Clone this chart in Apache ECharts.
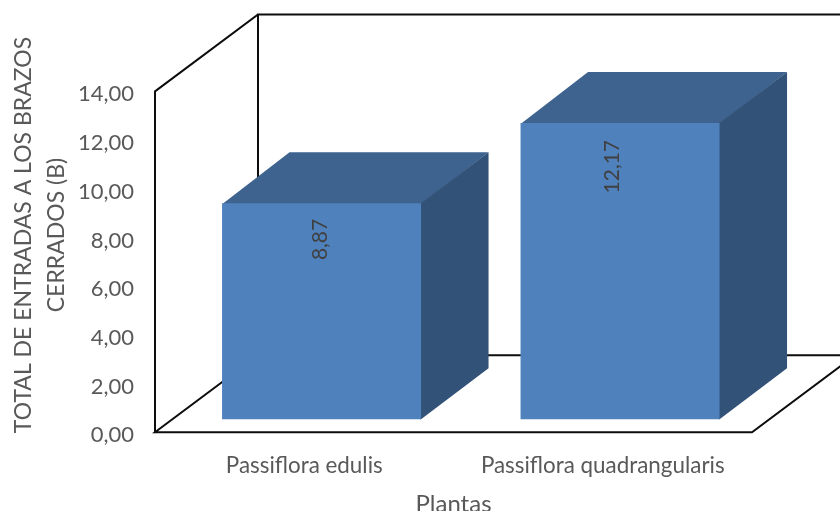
<!DOCTYPE html>
<html>
<head>
<meta charset="utf-8">
<style>html,body{margin:0;padding:0;background:#fff}#chart{width:840px;height:511px}</style>
<script src="https://cdn.jsdelivr.net/npm/echarts@6/dist/echarts.min.js"></script>
</head>
<body>
<div id="chart"></div>
<script>
const categories = ['Passiflora edulis', 'Passiflora quadrangularis'];
const values = [8.87, 12.17];
const yTicks = { min: 0, max: 14, interval: 2 };
const yTitle = ['TOTAL DE ENTRADAS A LOS BRAZOS', 'CERRADOS (B)'];
const xTitle = 'Plantas';

// Oblique projection of the 3D box: depth runs up and to the right.
const wallDepth = { x: 103, y: -77 };
const barInset = { x: 17.3, y: -13 };
const barDepth = { x: 67.5, y: -51 };
const barRatio = 2 / 3;
const labelShift = [-1, -8];
const labelGap = [15.5, 17];
const fontName = 'Lato, "Open Sans", sans-serif';
const comma = (v, digits) => v.toFixed(digits).replace('.', ',');

const wallStyle = { stroke: '#0d0d0d', lineWidth: 2, fill: null };

function renderWalls(params, api) {
  const c = params.coordSys;
  const l = c.x, r = c.x + c.width, t = c.y, b = c.y + c.height;
  const dx = wallDepth.x, dy = wallDepth.y;
  return {
    type: 'polyline',
    shape: {
      points: [
        [l, t], [l + dx, t + dy], [r + dx, t + dy], [l + dx, t + dy],
        [l + dx, b + dy], [r + dx, b + dy], [r, b], [l, b], [l + dx, b + dy]
      ]
    },
    style: wallStyle
  };
}

function renderBar(params, api) {
  const cat = api.value(0), val = api.value(1);
  const top = api.coord([cat, val]);
  const base = api.coord([cat, 0]);
  const w = api.size([1, 0])[0] * barRatio;
  const x0 = top[0] - w / 2 + barInset.x, x1 = x0 + w;
  const y0 = top[1] + barInset.y, y1 = base[1] + barInset.y;
  const dx = barDepth.x, dy = barDepth.y;
  return {
    type: 'group',
    children: [
      // Top and side faces run slightly under the front face so no seam shows.
      {
        type: 'polygon',
        shape: { points: [[x0, y0 + 1], [x0 + dx, y0 + dy], [x1 + dx, y0 + dy], [x1, y0 + 1]] },
        style: { fill: '#3e638f' }
      },
      {
        type: 'polygon',
        shape: { points: [[x1 - 1, y0], [x1, y0], [x1 + dx, y0 + dy], [x1 + dx, y1 + dy], [x1, y1], [x1 - 1, y1]] },
        style: { fill: '#335278' }
      },
      {
        type: 'rect',
        shape: { x: x0, y: y0, width: w, height: y1 - y0 },
        style: { fill: '#4f81bd' }
      },
      {
        type: 'text',
        x: (x0 + x1) / 2 + labelShift[cat],
        y: y0 + labelGap[cat],
        rotation: Math.PI / 2,
        style: {
          text: comma(val, 2),
          fill: '#404040',
          font: '21px ' + fontName,
          align: 'right',
          verticalAlign: 'middle'
        }
      }
    ]
  };
}

const chart = echarts.init(document.getElementById('chart'));
chart.setOption({
  animation: false,
  backgroundColor: '#fff',
  grid: { left: 155, top: 91.4, width: 597, height: 340.9, outerBoundsMode: 'none' },
  xAxis: {
    type: 'category',
    data: categories,
    name: xTitle,
    nameLocation: 'middle',
    nameGap: 60,
    nameTextStyle: { color: '#595959', fontFamily: fontName, fontSize: 24 },
    axisTick: { show: false },
    axisLine: { show: false },
    axisLabel: { color: '#595959', fontFamily: fontName, fontSize: 22.4, margin: 22, interval: 0, hideOverlap: false }
  },
  yAxis: {
    type: 'value',
    min: yTicks.min,
    max: yTicks.max,
    interval: yTicks.interval,
    splitLine: { show: false },
    axisTick: { show: false },
    axisLine: { show: true, onZero: false, lineStyle: { color: '#0d0d0d', width: 2 } },
    axisLabel: {
      color: '#595959',
      fontFamily: fontName,
      fontSize: 22,
      margin: 21,
      verticalAlign: 'top',
      lineHeight: 6,
      formatter: v => comma(v, 2)
    }
  },
  graphic: [{
    type: 'text',
    x: 40,
    y: 235,
    rotation: Math.PI / 2,
    style: {
      text: yTitle.join('\n'),
      fill: '#595959',
      font: '23px ' + fontName,
      lineHeight: 33,
      align: 'center',
      verticalAlign: 'middle'
    }
  }],
  series: [
    {
      type: 'custom',
      coordinateSystem: 'cartesian2d',
      silent: true,
      z: 1,
      renderItem: renderWalls,
      data: [[0, 0]]
    },
    {
      type: 'custom',
      coordinateSystem: 'cartesian2d',
      z: 2,
      renderItem: renderBar,
      encode: { x: 0, y: 1 },
      data: values.map((v, i) => [i, v])
    }
  ]
});
</script>
</body>
</html>
